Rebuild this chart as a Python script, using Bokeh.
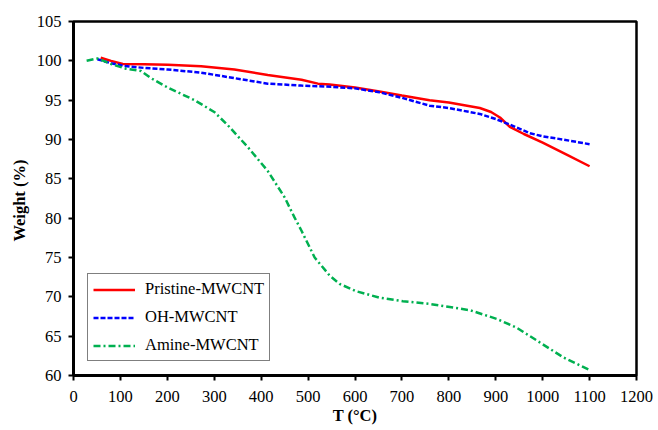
from bokeh.plotting import figure
from bokeh.models import Legend, LegendItem, FixedTicker
from bokeh.embed import file_html
from bokeh.resources import INLINE

# Data
pristine_T = [58, 80, 105, 150, 201, 272, 343, 414, 486, 521, 546, 600, 652, 700, 759, 800, 866, 890, 909, 930, 960, 1000, 1050, 1100]
pristine_W = [100.4, 100.0, 99.6, 99.55, 99.5, 99.3, 98.9, 98.2, 97.6, 97.1, 97.0, 96.6, 96.1, 95.6, 95.0, 94.7, 94.0, 93.5, 92.8, 91.6, 90.7, 89.6, 88.1, 86.6]

oh_T = [51, 80, 108, 150, 201, 272, 343, 414, 486, 550, 600, 652, 700, 759, 800, 866, 900, 930, 973, 1000, 1043, 1100]
oh_W = [100.2, 99.7, 99.35, 99.1, 98.9, 98.5, 97.8, 97.1, 96.85, 96.7, 96.5, 96.0, 95.3, 94.3, 94.0, 93.25, 92.6, 91.9, 90.8, 90.4, 90.0, 89.4]

amine_T = [28, 51, 80, 112, 144, 165, 201, 258, 300, 329, 372, 414, 450, 471, 486, 514, 546, 567, 603, 652, 702, 759, 802, 845, 902, 944, 994, 1044, 1100]
amine_W = [100.0, 100.3, 99.6, 99.0, 98.7, 97.8, 96.6, 95.0, 93.5, 91.8, 89.0, 86.0, 82.65, 80.1, 78.4, 75.0, 72.7, 71.65, 70.7, 69.9, 69.45, 69.1, 68.7, 68.3, 67.2, 66.1, 64.2, 62.3, 60.7]

x_ticks = list(range(0, 1201, 100))
y_ticks = list(range(60, 106, 5))
series_names = ["Pristine-MWCNT", "OH-MWCNT", "Amine-MWCNT"]

FONT = "Liberation Serif"

p = figure(frame_width=563, frame_height=354, x_range=(0, 1200), y_range=(60, 105),
           output_backend="svg", toolbar_location=None,
           min_border_left=73, min_border_top=21, min_border_right=20, min_border_bottom=50)
p.background_fill_color = "white"
p.border_fill_color = "white"
p.outline_line_color = "black"
p.outline_line_width = 2.5
p.xgrid.visible = False
p.ygrid.visible = False

r1 = p.line(pristine_T, pristine_W, line_color="#FF0000", line_width=2.5)
r2 = p.line(oh_T, oh_W, line_color="#0000FF", line_width=2.5, line_dash="5 2")
r3 = p.line(amine_T, amine_W, line_color="#00B050", line_width=2.5, line_dash="7 3 2 3")

for ax in (p.xaxis[0], p.yaxis[0]):
    ax.axis_line_width = 3
    ax.axis_line_color = "black"
    ax.major_tick_line_width = 2
    ax.major_tick_out = 5
    ax.major_tick_in = 0
    ax.minor_tick_line_color = None
    ax.major_label_text_font = FONT
    ax.major_label_text_font_size = "16.5px"
    ax.major_label_text_color = "black"
    ax.axis_label_text_font = FONT
    ax.axis_label_text_font_size = "16.5px"
    ax.axis_label_text_font_style = "bold"
    ax.axis_label_text_color = "black"

p.xaxis[0].ticker = FixedTicker(ticks=x_ticks)
p.yaxis[0].ticker = FixedTicker(ticks=y_ticks)
p.xaxis[0].axis_label = "T (°C)"
p.yaxis[0].axis_label = "Weight  (%)"
p.xaxis[0].major_label_standoff = 10
p.yaxis[0].major_label_standoff = 7
p.xaxis[0].axis_label_standoff = 1
p.yaxis[0].axis_label_standoff = 5

legend = Legend(items=[LegendItem(label=series_names[0], renderers=[r1]),
                       LegendItem(label=series_names[1], renderers=[r2]),
                       LegendItem(label=series_names[2], renderers=[r3])],
                location="bottom_left")
legend.label_text_font = FONT
legend.label_text_font_size = "16.5px"
legend.label_text_color = "black"
legend.border_line_color = "black"
legend.border_line_width = 1.5
legend.background_fill_alpha = 1
legend.glyph_width = 42
legend.glyph_height = 19
legend.label_height = 19
legend.label_standoff = 10
legend.padding = 5
legend.spacing = 8
legend.margin = 14
p.add_layout(legend)

open("out.html", "w").write(file_html(p, INLINE))
